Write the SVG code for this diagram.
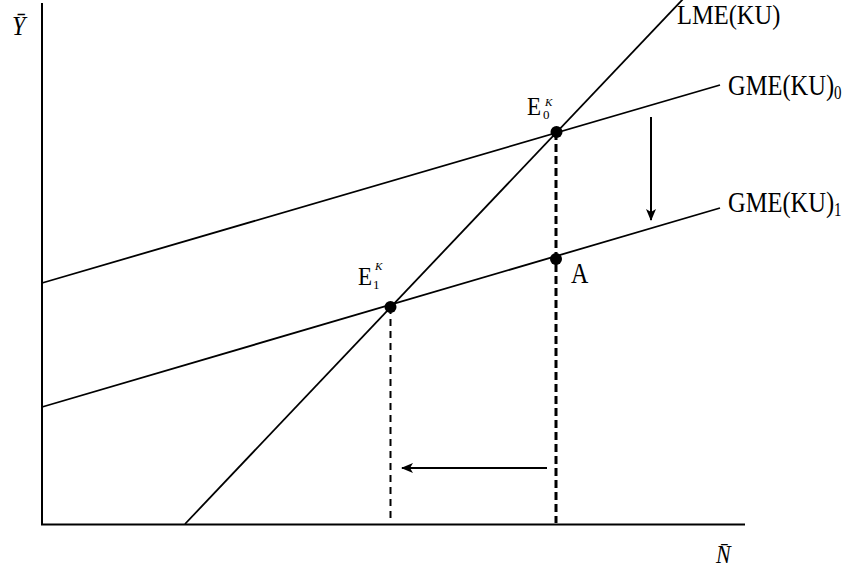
<svg xmlns="http://www.w3.org/2000/svg" width="854" height="571" viewBox="0 0 854 571">
<defs>
<style>
.t{font-family:"Liberation Serif","Times New Roman",serif;fill:#000}
.it{font-style:italic}
.ax{stroke:#000;stroke-width:2;fill:none}
.ln{stroke:#000;stroke-width:1.8;fill:none}
</style>
<marker id="ah" viewBox="0 0 12 10" refX="11" refY="5" markerWidth="12" markerHeight="10" markerUnits="userSpaceOnUse" orient="auto">
<path d="M0,0 L12,5 L0,10 L3,5 Z" fill="#000"/>
</marker>
</defs>
<rect width="854" height="571" fill="#fff"/>
<g id="axes">
<line class="ax" x1="42" y1="3" x2="42" y2="525"/>
<line class="ax" x1="41" y1="524.5" x2="745" y2="524.5"/>
<text class="t it" x="0" y="0" font-size="24" transform="translate(12 35) scale(1 1.15)">Ȳ</text>
<text class="t it" x="0" y="0" font-size="22" transform="translate(716 563) scale(1 1.1)">N̄</text>
</g>
<g id="connectors">
<line class="ln" x1="185" y1="524" x2="684" y2="-2" stroke-width="1.4"/>
<line class="ln" x1="42" y1="283" x2="720" y2="85"/>
<line class="ln" x1="42" y1="407" x2="720" y2="208"/>
<line x1="556" y1="132" x2="556" y2="523" stroke="#000" stroke-width="3" stroke-dasharray="8,4"/>
<line x1="390.5" y1="307" x2="390.5" y2="523" stroke="#000" stroke-width="2" stroke-dasharray="7,5"/>
<line x1="651" y1="117" x2="651" y2="220" stroke="#000" stroke-width="2" marker-end="url(#ah)"/>
<line x1="547" y1="468" x2="402" y2="468" stroke="#000" stroke-width="2" marker-end="url(#ah)"/>
</g>
<g id="E0">
<circle cx="556.5" cy="132" r="6" fill="#000"/>
<text class="t" x="0" y="0" font-size="23" transform="translate(527 115) scale(1 1.05)">E</text>
<text class="t" x="543" y="119" font-size="13">0</text>
<text class="t it" x="545" y="106" font-size="11">K</text>
</g>
<g id="E1">
<circle cx="390.5" cy="307" r="6" fill="#000"/>
<text class="t" x="0" y="0" font-size="23" transform="translate(358 285) scale(1 1.05)">E</text>
<text class="t" x="373" y="289" font-size="13">1</text>
<text class="t it" x="375" y="270" font-size="11">K</text>
</g>
<g id="A">
<circle cx="556" cy="259" r="6" fill="#000"/>
<text class="t" x="0" y="0" font-size="24" transform="translate(571 283) scale(1 1.25)">A</text>
</g>
<g id="LME">
<text class="t" x="0" y="0" font-size="24.5" transform="translate(677 24) scale(1 1.08)">LME(KU)</text>
</g>
<g id="GME0">
<text class="t" x="0" y="0" font-size="24.5" transform="translate(728 95) scale(1 1.22)">GME(KU)<tspan font-size="15" dy="3">0</tspan></text>
</g>
<g id="GME1">
<text class="t" x="0" y="0" font-size="24.5" transform="translate(728 212) scale(1 1.22)">GME(KU)<tspan font-size="15" dy="3">1</tspan></text>
</g>
</svg>
